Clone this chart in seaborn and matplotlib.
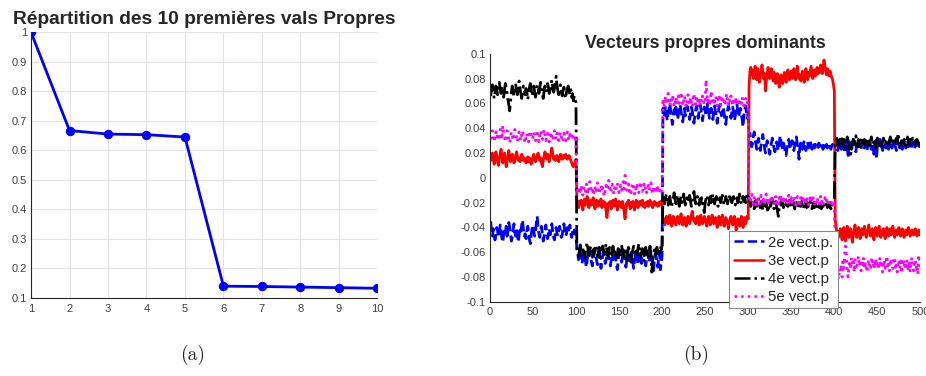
import numpy as np
import pandas as pd
import matplotlib
matplotlib.use("Agg")
import matplotlib.pyplot as plt
import seaborn as sns

# ---------------- data ----------------
rank = [1, 2, 3, 4, 5, 6, 7, 8, 9, 10]
eigvals = [1.0, 0.667, 0.655, 0.653, 0.645, 0.140, 0.139, 0.137, 0.135, 0.133]

# eigenvectors, values in thousandths
vec2 = [
    -35, -44, -47, -41, -46, -50, -45, -40, -43, -48,
    -44, -38, -42, -49, -52, -46, -41, -44, -39, -47,
    -43, -36, -40, -45, -51, -48, -42, -37, -44, -47,
    -41, -45, -52, -46, -40, -43, -38, -34, -42, -47,
    -45, -49, -43, -39, -44, -50, -53, -46, -41, -38,
    -43, -47, -44, -36, -31, -40, -45, -48, -42, -39,
    -46, -51, -47, -43, -38, -44, -49, -45, -41, -46,
    -42, -37, -43, -48, -50, -44, -40, -45, -47, -42,
    -39, -44, -48, -46, -41, -37, -43, -47, -45, -40,
    -44, -41, -38, -45, -48, -43, -46, -42, -44, -47,
    -57, -61, -66, -62, -58, -64, -69, -65, -60, -63,
    -67, -72, -66, -61, -64, -59, -63, -68, -71, -65,
    -62, -58, -63, -67, -70, -66, -61, -65, -73, -68,
    -63, -60, -64, -69, -66, -62, -59, -64, -67, -71,
    -65, -61, -66, -63, -59, -64, -70, -74, -67, -62,
    -60, -65, -68, -63, -58, -62, -67, -72, -66, -61,
    -64, -69, -65, -60, -63, -68, -73, -67, -62, -59,
    -64, -70, -66, -61, -65, -69, -63, -58, -62, -67,
    -71, -65, -60, -64, -68, -62, -59, -65, -70, -75,
    -66, -61, -63, -68, -72, -64, -60, -74, -69, -62,
    56, 49, 53, 58, 51, 46, 52, 55, 60, 54,
    48, 43, 50, 55, 52, 57, 53, 47, 51, 56,
    59, 54, 49, 45, 52, 56, 50, 53, 58, 55,
    51, 47, 53, 57, 54, 49, 44, 50, 55, 58,
    52, 48, 54, 59, 56, 51, 46, 53, 57, 54,
    50, 55, 60, 53, 48, 52, 56, 51, 47, 54,
    58, 53, 49, 44, 51, 56, 59, 54, 50, 53,
    57, 52, 47, 43, 50, 54, 58, 55, 51, 48,
    53, 57, 52, 46, 50, 55, 59, 53, 49, 54,
    56, 51, 47, 41, 50, 55, 58, 52, 48, 53,
    33, 36, 30, 25, 28, 34, 37, 31, 27, 23,
    29, 32, 26, 22, 27, 31, 35, 29, 24, 20,
    26, 30, 27, 23, 19, 25, 28, 32, 27, 24,
    21, 26, 29, 25, 22, 27, 34, 30, 26, 23,
    28, 25, 21, 18, 24, 28, 31, 26, 23, 27,
    30, 25, 22, 26, 29, 33, 27, 24, 15, 25,
    28, 26, 23, 27, 30, 25, 22, 26, 29, 24,
    27, 30, 26, 23, 25, 28, 24, 27, 26, 23,
    25, 28, 26, 24, 27, 25, 23, 26, 28, 25,
    27, 24, 26, 28, 25, 23, 26, 27, 24, 26,
    27, 30, 25, 22, 28, 31, 26, 23, 29, 27,
    24, 20, 26, 30, 28, 16, 25, 29, 27, 23,
    26, 31, 28, 24, 21, 27, 30, 25, 28, 26,
    23, 27, 30, 26, 24, 28, 25, 22, 27, 29,
    31, 26, 23, 28, 25, 19, 27, 30, 15, 26,
    24, 28, 31, 27, 25, 22, 26, 29, 27, 24,
    28, 25, 23, 27, 30, 26, 24, 28, 31, 27,
    25, 22, 26, 29, 27, 24, 28, 25, 23, 27,
    30, 26, 24, 27, 29, 25, 28, 26, 24, 27,
    29, 25, 23, 27, 28, 26, 30, 27, 25, 27,
]

vec3 = [
    14, 17, 20, 15, 11, 16, 21, 18, 13, 10,
    15, 19, 23, 17, 12, 16, 20, 14, 9, 13,
    18, 22, 17, 13, 15, 19, 16, 12, 14, 18,
    21, 17, 14, 16, 13, 15, 19, 17, 14, 16,
    15, 12, 14, 17, 13, 16, 15, 11, 14, 17,
    19, 16, 13, 15, 18, 20, 17, 14, 16, 12,
    9, 14, 18, 21, 17, 15, 19, 16, 13, 17,
    20, 24, 19, 15, 17, 14, 16, 18, 15, 13,
    16, 19, 17, 15, 18, 16, 17, 19, 16, 15,
    17, 18, 16, 14, 12, 10, 9, 11, 13, 15,
    -17, -20, -24, -19, -21, -18, -23, -26, -20, -17,
    -22, -19, -15, -21, -24, -20, -18, -22, -19, -16,
    -21, -25, -20, -18, -23, -19, -22, -20, -17, -24,
    -21, -19, -23, -20, -27, -32, -24, -20, -22, -19,
    -25, -21, -18, -23, -20, -17, -22, -26, -21, -19,
    -23, -20, -24, -19, -22, -28, -33, -24, -20, -22,
    -18, -21, -25, -20, -23, -19, -22, -26, -21, -18,
    -20, -24, -21, -19, -22, -20, -18, -23, -21, -24,
    -20, -22, -19, -23, -21, -18, -22, -20, -24, -21,
    -19, -22, -20, -21, -23, -20, -22, -19, -21, -20,
    -36, -33, -38, -35, -31, -34, -37, -33, -30, -35,
    -39, -34, -31, -36, -33, -38, -35, -31, -34, -37,
    -33, -29, -34, -38, -35, -32, -36, -39, -34, -31,
    -33, -37, -34, -30, -27, -32, -35, -33, -37, -34,
    -31, -35, -38, -33, -30, -34, -37, -35, -31, -33,
    -36, -39, -34, -31, -35, -38, -34, -30, -33, -37,
    -35, -32, -36, -40, -35, -31, -34, -38, -33, -30,
    -35, -39, -36, -32, -34, -37, -41, -36, -33, -31,
    -35, -38, -34, -31, -36, -42, -37, -33, -35, -39,
    -34, -31, -36, -40, -35, -32, -37, -34, -31, -33,
    74, 86, 89, 83, 87, 80, 85, 90, 84, 79,
    88, 83, 77, 82, 86, 91, 85, 80, 84, 70,
    78, 83, 89, 85, 80, 84, 88, 82, 78, 85,
    81, 76, 80, 84, 79, 73, 78, 83, 80, 76,
    81, 85, 80, 77, 82, 87, 84, 79, 83, 86,
    80, 84, 88, 83, 79, 85, 90, 84, 80, 83,
    78, 82, 86, 81, 77, 83, 88, 84, 79, 85,
    82, 86, 90, 85, 80, 84, 87, 82, 86, 89,
    84, 88, 85, 91, 87, 84, 89, 95, 90, 86,
    83, 88, 85, 82, 86, 83, 81, 79, 75, 70,
    -34, -39, -45, -49, -43, -47, -41, -45, -50, -44,
    -40, -46, -51, -45, -39, -43, -48, -44, -41, -47,
    -52, -46, -42, -38, -44, -48, -43, -40, -45, -49,
    -44, -41, -46, -43, -39, -44, -48, -45, -42, -38,
    -43, -47, -44, -41, -46, -50, -44, -40, -43, -47,
    -42, -39, -44, -48, -43, -46, -41, -45, -49, -44,
    -40, -43, -47, -44, -41, -46, -42, -39, -44, -48,
    -45, -42, -46, -43, -40, -44, -47, -43, -41, -45,
    -48, -44, -42, -46, -43, -40, -44, -47, -45, -42,
    -44, -46, -43, -41, -45, -47, -44, -42, -46, -45,
]

vec4 = [
    66, 72, 75, 70, 64, 69, 74, 71, 67, 73,
    77, 72, 68, 74, 70, 65, 71, 76, 73, 68,
    63, 59, 54, 62, 69, 74, 71, 66, 72, 75,
    70, 67, 73, 78, 72, 68, 64, 70, 74, 71,
    67, 72, 69, 63, 68, 73, 76, 71, 66, 70,
    74, 69, 65, 71, 75, 72, 68, 73, 77, 71,
    67, 64, 70, 74, 69, 72, 76, 73, 68, 71,
    75, 79, 73, 69, 72, 76, 82, 74, 70, 67,
    72, 75, 71, 66, 70, 73, 68, 64, 69, 72,
    74, 70, 67, 71, 65, 68, 62, 66, 63, 61,
    -56, -60, -63, -58, -54, -59, -62, -57, -61, -65,
    -60, -56, -52, -58, -62, -59, -55, -60, -64, -58,
    -61, -57, -54, -59, -63, -60, -56, -61, -65, -59,
    -55, -58, -62, -57, -53, -59, -63, -60, -56, -61,
    -64, -59, -55, -60, -58, -62, -66, -61, -57, -60,
    -63, -58, -54, -60, -64, -61, -57, -62, -66, -60,
    -56, -59, -63, -68, -62, -58, -55, -60, -63, -59,
    -62, -57, -53, -59, -64, -61, -57, -62, -67, -60,
    -56, -61, -58, -63, -59, -55, -61, -76, -68, -62,
    -58, -62, -59, -56, -61, -57, -60, -55, -58, -54,
    -14, -18, -21, -16, -13, -18, -22, -17, -15, -20,
    -24, -19, -16, -12, -17, -21, -18, -14, -19, -23,
    -18, -15, -20, -17, -13, -18, -22, -19, -16, -20,
    -17, -14, -19, -23, -18, -15, -11, -17, -21, -18,
    -15, -19, -22, -17, -20, -16, -21, -25, -28, -20,
    -17, -14, -19, -22, -18, -15, -20, -17, -13, -18,
    -21, -17, -15, -19, -23, -18, -16, -20, -17, -14,
    -18, -22, -19, -15, -18, -21, -17, -14, -19, -16,
    -20, -17, -15, -19, -22, -18, -16, -20, -17, -13,
    -18, -21, -17, -15, -19, -16, -20, -17, -12, -16,
    -16, -19, -23, -20, -17, -22, -25, -20, -18, -23,
    -21, -17, -20, -24, -19, -22, -26, -21, -18, -23,
    -20, -24, -28, -22, -19, -23, -20, -17, -22, -25,
    -21, -19, -23, -27, -31, -24, -20, -22, -18, -21,
    -24, -20, -17, -22, -19, -23, -21, -18, -22, -20,
    -23, -19, -21, -25, -20, -18, -22, -24, -20, -21,
    -23, -19, -22, -25, -21, -18, -22, -24, -20, -23,
    -21, -19, -23, -25, -22, -20, -24, -21, -23, -25,
    -22, -20, -24, -22, -25, -21, -23, -20, -24, -22,
    -21, -24, -22, -20, -23, -25, -21, -22, -19, -17,
    25, 29, 32, 27, 30, 26, 31, 34, 29, 26,
    31, 28, 24, 29, 33, 30, 26, 22, 19, 24,
    28, 31, 27, 30, 34, 29, 26, 31, 28, 25,
    30, 33, 29, 27, 31, 28, 25, 30, 32, 28,
    26, 30, 33, 29, 27, 31, 28, 24, 29, 32,
    30, 27, 31, 28, 25, 29, 32, 30, 27, 29,
    31, 28, 26, 30, 33, 29, 27, 30, 28, 26,
    30, 32, 29, 36, 31, 28, 26, 30, 29, 27,
    31, 28, 26, 30, 33, 29, 27, 31, 28, 30,
    32, 29, 27, 30, 28, 31, 29, 27, 30, 28,
]

vec5 = [
    31, 35, 38, 33, 29, 34, 37, 32, 36, 30,
    34, 39, 35, 31, 42, 36, 33, 29, 34, 38,
    35, 31, 28, 33, 37, 34, 30, 35, 39, 36,
    32, 29, 34, 37, 33, 30, 35, 38, 34, 31,
    28, 33, 36, 32, 29, 34, 38, 35, 31, 33,
    37, 34, 30, 33, 36, 32, 29, 35, 38, 34,
    31, 35, 39, 34, 30, 33, 36, 32, 29, 34,
    37, 33, 30, 35, 38, 34, 31, 36, 33, 30,
    34, 37, 33, 29, 32, 36, 33, 30, 34, 37,
    33, 30, 35, 32, 34, 31, 33, 30, 32, 31,
    -12, -9, -13, -8, -11, -6, -10, -14, -9, -7,
    -11, -5, -9, -13, -8, -3, -7, -11, -9, -14,
    -10, -7, -12, -8, -4, -9, -13, -10, -6, -11,
    -8, -12, -15, -9, -6, -10, -7, -2, -8, -12,
    -9, -5, -10, -13, -8, -11, -7, -4, -9, -12,
    -8, -6, -10, -7, -3, -9, 2, -6, -10, -8,
    -5, -11, -8, -12, -7, -4, -9, -13, -8, -10,
    -6, -9, -12, -7, -3, -8, -11, -9, -5, -10,
    -7, -12, -9, -6, -10, -8, -4, -9, -13, -7,
    -10, -8, -11, -6, -9, -12, -8, -10, -11, -9,
    64, 57, 61, 66, 59, 63, 68, 62, 58, 64,
    60, 67, 63, 57, 61, 65, 62, 59, 66, 60,
    63, 69, 64, 58, 62, 66, 61, 57, 63, 67,
    62, 59, 65, 61, 57, 63, 68, 62, 59, 64,
    60, 65, 62, 58, 64, 61, 66, 63, 59, 62,
    79, 68, 61, 65, 58, 63, 70, 62, 59, 64,
    61, 66, 62, 58, 63, 67, 61, 59, 64, 60,
    65, 62, 58, 63, 68, 62, 59, 64, 61, 66,
    62, 58, 63, 60, 65, 61, 59, 64, 62, 58,
    63, 60, 65, 61, 58, 62, 64, 60, 61, 58,
    -16, -20, -17, -13, -18, -21, -16, -19, -23, -18,
    -15, -19, -22, -17, -14, -19, -21, -16, -20, -17,
    -13, -18, -22, -19, -16, -20, -17, -14, -19, -22,
    -18, -15, -20, -17, -21, -16, -19, -14, -18, -21,
    -17, -20, -15, -19, -22, -17, -14, -19, -21, -16,
    -20, -17, -15, -19, -22, -18, -15, -20, -17, -21,
    -16, -19, -14, -18, -21, -17, -20, -15, -19, -22,
    -18, -16, -20, -17, -14, -19, -21, -17, -20, -16,
    -19, -22, -18, -15, -20, -17, -21, -19, -16, -20,
    -18, -21, -19, -23, -20, -17, -22, -20, -24, -21,
    -56, -66, -74, -79, -82, -73, -76, -70, -80, -65,
    -73, -62, -55, -63, -76, -80, -71, -67, -74, -64,
    -71, -68, -76, -66, -72, -74, -67, -63, -71, -69,
    -75, -66, -70, -65, -73, -68, -72, -76, -69, -66,
    -71, -74, -67, -64, -72, -68, -73, -65, -71, -67,
    -74, -69, -64, -72, -67, -76, -70, -66, -73, -68,
    -63, -71, -67, -75, -70, -65, -69, -73, -67, -64,
    -72, -68, -76, -70, -66, -73, -67, -77, -70, -65,
    -72, -68, -74, -66, -71, -75, -67, -76, -69, -64,
    -72, -75, -69, -66, -73, -70, -78, -62, -69, -72,
]

vec_labels = ["2e vect.p.", "3e vect.p", "4e vect.p", "5e vect.p"]
vec_colors = ["#0000ff", "#ff0000", "#000000", "#ff00ff"]
vec_styles = ["--", "-", "-.", ":"]

# ---------------- style ----------------
sns.set_style("white")
plt.rcParams["font.family"] = ["Liberation Sans", "DejaVu Sans"]

fig = plt.figure(figsize=(9.26, 3.76), dpi=100)
ax1 = fig.add_axes([0.0335, 0.2074, 0.374, 0.707])
ax2 = fig.add_axes([0.529, 0.197, 0.465, 0.66])

tick_col = "#404040"

# ---------------- left panel ----------------
sns.lineplot(x=rank, y=eigvals, ax=ax1, color="#0000ff", marker="o",
             markersize=6, markeredgecolor="#0000ff", linewidth=2)
ax1.set_xlim(1, 10)
ax1.set_ylim(0.1, 1.0)
ax1.set_xticks(rank)
ax1.set_yticks(np.round(np.arange(0.1, 1.01, 0.1), 1))
ax1.yaxis.set_major_formatter(matplotlib.ticker.FormatStrFormatter("%g"))
ax1.grid(True, color="#e3e3e3", linewidth=0.8)
ax1.set_title("Répartition des 10 premières vals Propres", fontsize=13.8,
              fontweight="bold", pad=6)
ax1.set_xlabel("")
ax1.set_ylabel("")

# ---------------- right panel ----------------
for vals, lab, col, ls in zip([vec2, vec3, vec4, vec5], vec_labels, vec_colors, vec_styles):
    y = np.array(vals) / 1000.0
    x = np.arange(1, len(y) + 1)
    sns.lineplot(x=x, y=y, ax=ax2, color=col, linestyle=ls, linewidth=2.0,
                 label=lab, legend=False)
ax2.set_xlim(0, 500)
ax2.set_ylim(-0.1, 0.1)
ax2.set_xticks(np.arange(0, 501, 50))
ax2.set_yticks(np.round(np.arange(-0.1, 0.101, 0.02), 2))
ax2.yaxis.set_major_formatter(matplotlib.ticker.FormatStrFormatter("%g"))
ax2.set_title("Vecteurs propres dominants", fontsize=12.8, fontweight="bold", pad=4)
ax2.set_xlabel("")
ax2.set_ylabel("")

leg = ax2.legend(loc="upper left", bbox_to_anchor=(0.556, 0.285), fontsize=10.8,
                 frameon=True, fancybox=False, framealpha=1, edgecolor="#888888",
                 handlelength=2.0, handletextpad=0.3, borderpad=0.3,
                 labelspacing=0.27, borderaxespad=0)
leg.get_frame().set_linewidth(0.8)
for h in leg.get_lines():
    h.set_linewidth(1.8)

for ax in (ax1, ax2):
    for s in ("top", "right"):
        ax.spines[s].set_visible(False)
    for s in ("left", "bottom"):
        ax.spines[s].set_color("#262626")
        ax.spines[s].set_linewidth(0.8)
    ax.tick_params(direction="in", length=3, width=0.6, colors="#262626",
                   labelcolor=tick_col, labelsize=8, pad=3)
    ax.tick_params(axis="x", pad=4)

# ---------------- captions ----------------
fig.text(0.208, 1 - 355 / 376, "(a)", family="cmr10", fontsize=14,
         ha="center", va="center")
fig.text(0.752, 1 - 355 / 376, "(b)", family="cmr10", fontsize=14,
         ha="center", va="center")

fig.savefig("out.png", dpi=100)
